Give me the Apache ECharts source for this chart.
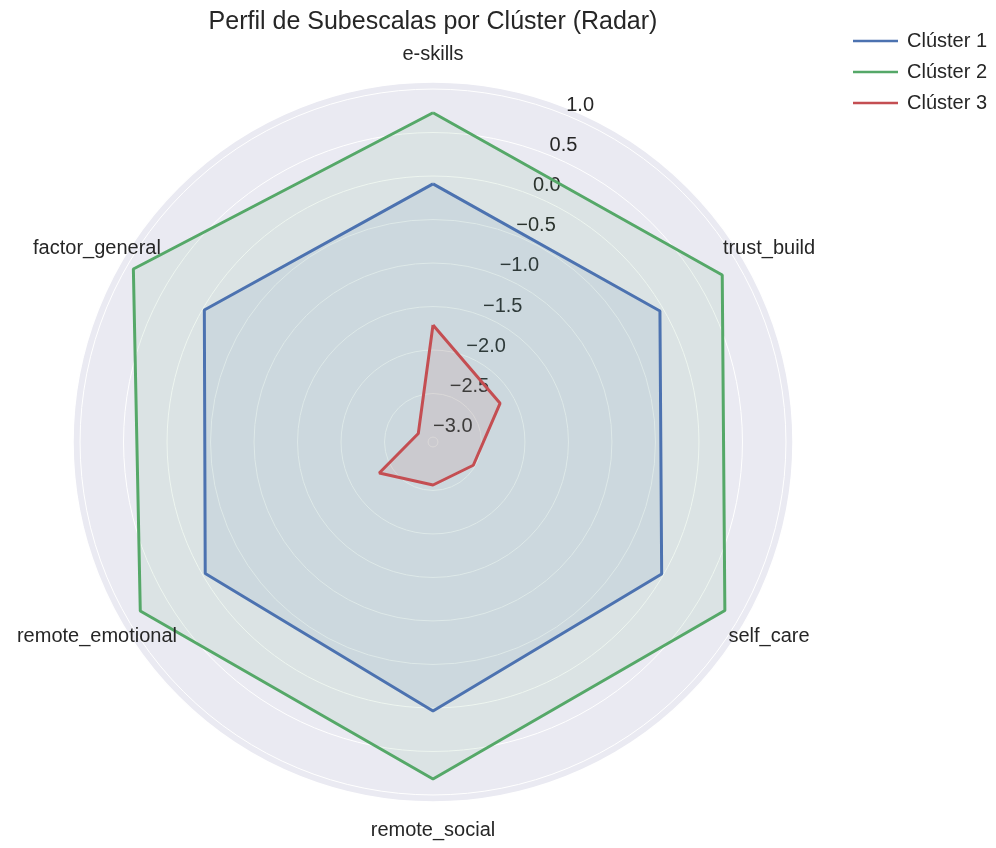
<!DOCTYPE html>
<html><head><meta charset="utf-8">
<script src="https://cdn.jsdelivr.net/npm/echarts@6/dist/echarts.min.js"></script>
<style>html,body{margin:0;padding:0;background:#fff}#c{width:996px;height:848px}</style>
</head><body><div id="c"></div>
<script>
const categories = ['e-skills', 'trust_build', 'self_care', 'remote_social', 'remote_emotional', 'factor_general'];
const seriesNames = ['Clúster 1', 'Clúster 2', 'Clúster 3'];
const cluster1 = [-0.09, -0.045, -0.022, 0.035, -0.034, -0.022];
const cluster2 = [0.728, 0.782, 0.817, 0.817, 0.828, 0.92];
const cluster3 = [-1.712, -2.167, -2.522, -2.563, -2.344, -2.862];
const radialTickMin = -3.0, radialTickMax = 1.0, radialTickStep = 0.5;
const titleText = 'Perfil de Subescalas por Clúster (Radar)';

const colors = ['#4C72B0', '#55A868', '#C44E52'];
const rMin = -3.057, rMax = 1.081;
const CX = 433, CY = 442, R = 360;
const FONT = 'Liberation Sans, Arial, sans-serif';
const TXT = '#262626';
const px = v => R * (v - rMin) / (rMax - rMin);
const n = categories.length;
const angles = categories.map((c, i) => i * 360 / n);
function loop(vals) { const d = vals.map((v, i) => [v, angles[i]]); d.push([vals[0], 360]); return d; }
const labelVal = rMin + (R + 28) / R * (rMax - rMin);

const chart = echarts.init(document.getElementById('c'), null, {renderer: 'canvas'});
const dataSets = [cluster1, cluster2, cluster3];
const series = dataSets.map((vals, k) => ({
  name: seriesNames[k], type: 'line', coordinateSystem: 'polar', polarIndex: 0,
  data: loop(vals), symbol: 'none', clip: false, z: 3,
  lineStyle: {width: 3, color: colors[k]}, itemStyle: {color: colors[k]},
  areaStyle: {color: colors[k], opacity: 0.1, origin: 'start'}
}));
series.push({
  type: 'scatter', coordinateSystem: 'polar', polarIndex: 0, silent: true, clip: false,
  symbolSize: 0, z: 4, itemStyle: {opacity: 1},
  data: categories.map((c, i) => ({name: c, value: [labelVal, angles[i]]})),
  label: {show: true, position: 'inside', formatter: '{b}', color: TXT, opacity: 1, fontSize: 20,
    fontFamily: FONT, align: 'center', verticalAlign: 'middle', textBorderWidth: 0}
});

chart.setOption({
  animation: false,
  backgroundColor: '#ffffff',
  polar: [
    {center: [CX, CY], radius: R},
    {center: [CX, CY], radius: [px(radialTickMin), px(radialTickMax)]}
  ],
  angleAxis: [
    {polarIndex: 0, type: 'value', min: 0, max: 360, interval: 360 / n, startAngle: 90, clockwise: true, z: 0,
      axisLine: {show: true, lineStyle: {color: '#ffffff', width: 1.5}},
      axisTick: {show: false}, axisLabel: {show: false},
      splitLine: {show: true, lineStyle: {color: '#ffffff', width: 1}},
      splitArea: {show: true, areaStyle: {color: ['#EAEAF2']}}},
    {polarIndex: 1, type: 'value', min: 0, max: 360, startAngle: 90 - 22.5, clockwise: true, show: false}
  ],
  radiusAxis: [
    {polarIndex: 0, type: 'value', min: rMin, max: rMax, show: false},
    {polarIndex: 1, type: 'value', min: radialTickMin, max: radialTickMax, interval: radialTickStep, z: 1,
      axisLine: {show: false}, axisTick: {show: false},
      splitLine: {show: true, lineStyle: {color: '#ffffff', width: 1}},
      axisLabel: {show: true, margin: 2, color: TXT, fontSize: 20, fontFamily: FONT,
        align: 'left', verticalAlign: 'bottom',
        formatter: v => v.toFixed(1).replace('-', '\u2212')}}
  ],
  legend: {
    data: seriesNames, orient: 'vertical', left: 848, top: 26,
    icon: 'rect', itemWidth: 45, itemHeight: 2.5, itemGap: 11,
    textStyle: {fontSize: 20, color: TXT, fontFamily: FONT, padding: [0, 0, 0, 4]}
  },
  graphic: [{type: 'text', x: CX, y: 22, style: {text: titleText, font: '25px ' + FONT, fill: TXT, align: 'center', verticalAlign: 'middle'}}],
  series: series
});
</script></body></html>
